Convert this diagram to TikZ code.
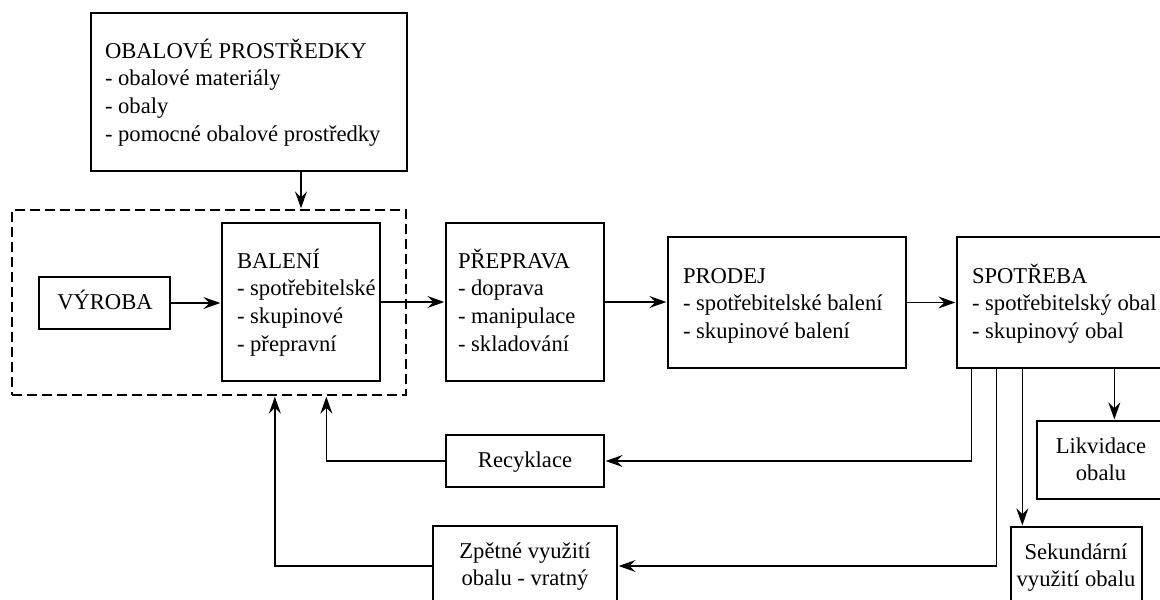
\documentclass[tikz,border=0pt]{standalone}
\usepackage{fontspec}
\setmainfont{Liberation Serif}
\usetikzlibrary{arrows.meta}
\newcommand\lft[1]{\begin{tabular}[t]{@{}l@{}}#1\end{tabular}}
\newcommand\ctr[1]{\begin{tabular}[t]{@{}c@{}}#1\end{tabular}}
\tikzset{
  box/.style={draw, line width=1.3pt, inner sep=0pt},
  dbox/.style={draw, line width=1.3pt, inner sep=0pt, dash pattern=on 10pt off 5pt},
  txt/.style={inner sep=0pt, outer sep=0pt},
  arr/.style={line width=1.3pt, -{Stealth[length=17pt,width=12pt,inset=6pt]}, shorten >=1pt},
}
\begin{document}
\begin{tikzpicture}[x=1pt,y=-1pt,font=\fontsize{22.6}{27.7}\selectfont]
\useasboundingbox (0,0) rectangle (1160,600);
% boxes
\node[box, minimum width=316pt, minimum height=158pt] (obal) at (249,92) {};
\node[dbox, minimum width=394pt, minimum height=185pt] (dash) at (209,302.5) {};
\node[box, minimum width=131pt, minimum height=52pt] (vyroba) at (104.5,303) {};
\node[box, minimum width=158pt, minimum height=158pt] (baleni) at (301,302) {};
\node[box, minimum width=158pt, minimum height=158pt] (preprava) at (525,302) {};
\node[box, minimum width=238pt, minimum height=131pt] (prodej) at (787,302.5) {};
\node[box, minimum width=210pt, minimum height=131pt] (spotreba) at (1062,302.5) {};
\node[box, minimum width=158pt, minimum height=52pt] (recyk) at (525,461) {};
\node[box, minimum width=184pt, minimum height=80pt] (zpet) at (525,566) {};
\node[box, minimum width=131pt, minimum height=80pt] (sekund) at (1076.5,567) {};
\node[box, minimum width=130pt, minimum height=78pt] (likv) at (1102,460) {};
% texts
\node[txt, anchor=base west] (obalT) at (105,58) {\lft{OBALOVÉ PROSTŘEDKY\\- obalové materiály\\- obaly\\- pomocné obalové prostředky}};
\node[txt, anchor=base] (vyrobaT) at (105,309) {VÝROBA};
\node[txt, anchor=base west] (baleniT) at (237,268) {\lft{BALENÍ\\- spotřebitelské\\- skupinové\\- přepravní}};
\node[txt, anchor=base west] (prepravaT) at (458,268) {\lft{PŘEPRAVA\\- doprava\\- manipulace\\- skladování}};
\node[txt, anchor=base west] (prodejT) at (683,283) {\lft{PRODEJ\\- spotřebitelské balení\\- skupinové balení}};
\node[txt, anchor=base west] (spotrebaT) at (972,283) {\lft{SPOTŘEBA\\- spotřebitelský obal\\- skupinový obal}};
\node[txt, anchor=base] (recykT) at (525,467) {Recyklace};
\node[txt, anchor=base] (zpetT) at (525,558) {\ctr{Zpětné využití\\obalu - vratný}};
\node[txt, anchor=base] (sekundT) at (1076,559) {\ctr{Sekundární\\využití obalu}};
\node[txt, anchor=base] (likvT) at (1101,453) {\ctr{Likvidace\\obalu}};
% helper coordinates
\coordinate (s1) at ([xshift=15pt]spotreba.south west);
\coordinate (s2) at ([xshift=40pt]spotreba.south west);
\coordinate (s3) at ([xshift=66pt]spotreba.south west);
\coordinate (s4) at ([xshift=158pt]spotreba.south west);
\coordinate (d1) at ([xshift=315pt]dash.south west);
\coordinate (d2) at ([xshift=263.5pt]dash.south west);
% connectors
\draw[arr] (obal.south -| baleni.north) -- (baleni.north |- dash.north);
\draw[arr] (vyroba.east) -- (vyroba.east -| baleni.west);
\draw[arr] (baleni.east) -- (preprava.west);
\draw[arr] (preprava.east) -- (preprava.east -| prodej.west);
\draw[arr] (prodej.east) -- (spotreba.west);
\draw[arr] (s1) |- (recyk.east);
\draw[arr] (s2) |- (zpet.east);
\draw[arr] (s3) -- (s3 |- sekund.north);
\draw[arr] (s4) -- (s4 |- likv.north);
\draw[arr] (recyk.west) -| (d1);
\draw[arr] (zpet.west) -| (d2);
\end{tikzpicture}
\end{document}
